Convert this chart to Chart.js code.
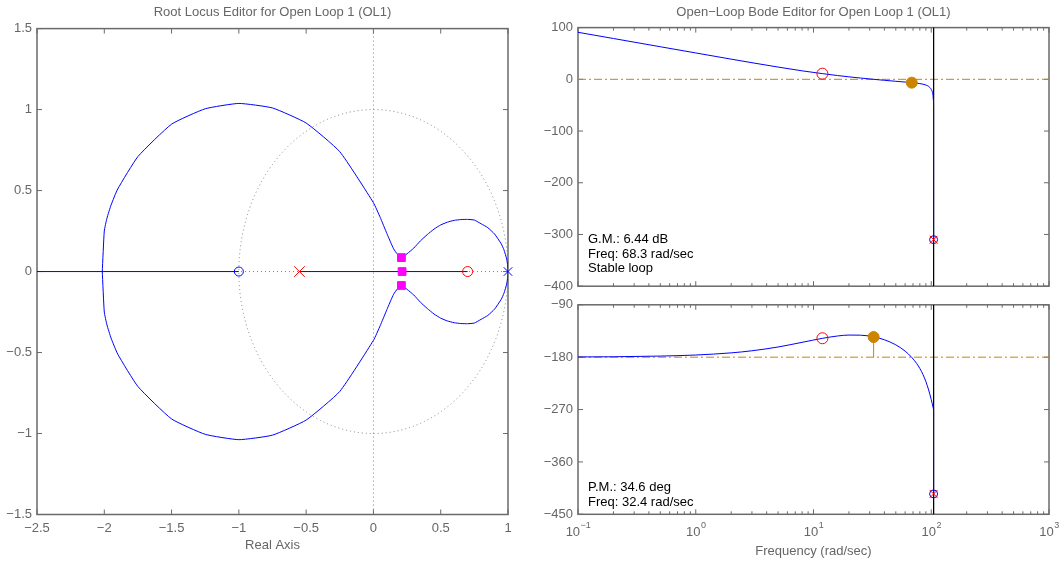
<!DOCTYPE html>
<html><head><meta charset="utf-8">
<script src="https://cdn.jsdelivr.net/npm/chart.js@4.4.1/dist/chart.umd.min.js"></script>
<style>
html,body{margin:0;padding:0;background:#fff;}
body{width:1063px;height:567px;position:relative;overflow:hidden;}
.box{position:absolute;}
</style></head><body>
<div class="box" style="left:0;top:0;width:530px;height:567px"><canvas id="rl"></canvas></div>
<div class="box" style="left:530px;top:0;width:533px;height:299px"><canvas id="mag"></canvas></div>
<div class="box" style="left:530px;top:292px;width:533px;height:275px"><canvas id="ph"></canvas></div>
<script>
// ---------------- Root locus data ----------------
const rlTitle = 'Root Locus Editor for Open Loop 1 (OL1)';
const rlXLabel = 'Real Axis';
const rlXTicks = [-2.5, -2, -1.5, -1, -0.5, 0, 0.5, 1];
const rlYTicks = [-1.5, -1, -0.5, 0, 0.5, 1, 1.5];
const locusUpperRe = [1.0, 0.998, 0.99, 0.97, 0.95, 0.9, 0.85, 0.8, 0.75, 0.7, 0.65, 0.6, 0.55, 0.5, 0.45, 0.4, 0.35, 0.3, 0.25, 0.208, 0.18, 0.15, 0.1, 0.05, 0.0, -0.25, -0.5, -0.75, -1.0, -1.25, -1.5, -1.75, -1.9, -1.95, -1.98, -2.0, -2.015];
const locusUpperIm = [0, 0.035, 0.078, 0.134, 0.171, 0.232, 0.271, 0.295, 0.318, 0.322, 0.321, 0.316, 0.305, 0.288, 0.262, 0.228, 0.19, 0.145, 0.11, 0.086, 0.105, 0.14, 0.235, 0.335, 0.425, 0.74, 0.917, 1.01, 1.038, 1.005, 0.91, 0.71, 0.51, 0.41, 0.33, 0.25, 0];
const locusLowerRe = [1.0, 0.998, 0.99, 0.97, 0.95, 0.9, 0.85, 0.8, 0.75, 0.7, 0.65, 0.6, 0.55, 0.5, 0.45, 0.4, 0.35, 0.3, 0.25, 0.208, 0.18, 0.15, 0.1, 0.05, 0.0, -0.25, -0.5, -0.75, -1.0, -1.25, -1.5, -1.75, -1.9, -1.95, -1.98, -2.0, -2.015];
const locusLowerIm = [0, -0.035, -0.078, -0.134, -0.171, -0.232, -0.271, -0.295, -0.318, -0.322, -0.321, -0.316, -0.305, -0.288, -0.262, -0.228, -0.19, -0.145, -0.11, -0.086, -0.105, -0.14, -0.235, -0.335, -0.425, -0.74, -0.917, -1.01, -1.038, -1.005, -0.91, -0.71, -0.51, -0.41, -0.33, -0.25, 0];
const realSegARe = [-2.5, -1.0];
const realSegBRe = [-0.55, 0.7];
const plantPoleRe = [1.0], plantPoleIm = [0];
const plantZeroRe = [-1.0], plantZeroIm = [0];
const compPoleRe = [-0.55], compPoleIm = [0];
const compZeroRe = [0.7], compZeroIm = [0];
const clPoleRe = [0.208, 0.213, 0.208];
const clPoleIm = [0.086, 0, -0.086];

// ---------------- Bode data ----------------
const bodeTitle = 'Open\u2212Loop Bode Editor for Open Loop 1 (OL1)';
const freqLabel = 'Frequency (rad/sec)';
const freqMajor = [0.1, 1, 10, 100, 1000];
const freqExp = ['\u22121', '0', '1', '2', '3'];
const magTicks = [100, 0, -100, -200, -300, -400];
const phaseTicks = [-90, -180, -270, -360, -450];
const freq =  [0.1, 0.2, 0.5, 1, 2, 3, 5, 8, 12, 16, 20, 25, 32.4, 40, 50, 60, 68.3, 75, 80, 85, 90, 95, 100, 102, 103.5, 104.3, 104.65, 104.72];
const magDb = [90.9, 78.9, 63.0, 51.0, 39.0, 32.1, 23.7, 16.4, 10.9, 7.3, 4.8, 2.5, 0.0, -1.9, -3.8, -5.3, -6.4, -7.4, -8.3, -9.4, -11.0, -13.7, -19.4, -24.1, -31.0, -40.3, -55.8, -310];
const phaseDeg = [-179.6, -179.3, -178.1, -176.3, -172.6, -169.0, -162.5, -154.5, -147.5, -143.6, -142.0, -142.2, -145.0, -150.1, -158.8, -169.6, -180.4, -190.6, -199.4, -209.7, -221.9, -236.3, -252.9, -260.1, -265.5, -268.5, -269.7, -415];
const nyquistFreq = [104.72];
const gmFreq = [68.3], gmMag = [-6.44];
const pmFreq = [32.4], pmPhase = [-145.4];
const compZeroFreq = [11.9], compZeroMag = [10.9], compZeroPhase = [-147.5];
const nyqMarkMag = [-310], nyqMarkPhase = [-415];
const gmText = ['G.M.: 6.44 dB', 'Freq: 68.3 rad/sec', 'Stable loop'];
const pmText = ['P.M.: 34.6 deg', 'Freq: 32.4 rad/sec'];

// ---------------- helpers ----------------
const FONT = "'Liberation Sans', Arial, Helvetica, sans-serif";
Chart.defaults.font.family = FONT;
Chart.defaults.font.size = 13;
Chart.defaults.color = '#666';
Chart.defaults.animation = false;
const MINUS = '\u2212';
const fmt = v => String(v).replace('-', MINUS);
const P = (xs, ys) => xs.map((x, i) => ({x, y: ys[i]}));
const ORANGE = '#cc8500';
const BLUE = '#0000ff', RED = '#ff0000', MAG = '#ff00ff';
const lineDs = (data, color, extra) => Object.assign({data, showLine: true, borderColor: color, borderWidth: 1, pointRadius: 0, fill: false, order: 5}, extra || {});
const markDs = (data, style, color, r, fill, extra) => Object.assign({data, showLine: false, pointStyle: style, pointRadius: r, pointHoverRadius: r, pointBorderColor: color, pointBackgroundColor: fill, pointBorderWidth: 1, clip: false, order: 0}, extra || {});
const NONE = 'rgba(0,0,0,0)';

const framePlugin = {
  id: 'frame',
  beforeDatasetsDraw(chart, args, o) {
    const {ctx, chartArea: a, scales} = chart;
    const xs = scales.x, ys = scales.y;
    ctx.save();
    ctx.strokeStyle = '#6a6a6a';
    ctx.lineWidth = 1;
    const seg = (x1, y1, x2, y2) => { ctx.beginPath(); ctx.moveTo(x1, y1); ctx.lineTo(x2, y2); ctx.stroke(); };
    (o.xMajor || []).forEach(v => { const p = xs.getPixelForValue(v); seg(p, a.bottom, p, a.bottom - 5); seg(p, a.top, p, a.top + 5); });
    (o.xMinor || []).forEach(v => { const p = xs.getPixelForValue(v); seg(p, a.bottom, p, a.bottom - 3); seg(p, a.top, p, a.top + 3); });
    (o.yMajor || []).forEach(v => { const p = ys.getPixelForValue(v); seg(a.left, p, a.left + 5, p); seg(a.right, p, a.right - 5, p); });
    ctx.lineWidth = 1.5;
    ctx.strokeRect(a.left, a.top, a.right - a.left, a.bottom - a.top);
    ctx.restore();
  }
};

// dotted reference grid of the root-locus (axes through origin + unit circle)
const rlGridPlugin = {
  id: 'rlgrid',
  beforeDatasetsDraw(chart) {
    const {ctx, chartArea: a, scales} = chart;
    const xs = scales.x, ys = scales.y;
    const x0 = xs.getPixelForValue(0), y0 = ys.getPixelForValue(0);
    const rx = xs.getPixelForValue(1) - x0, ry = y0 - ys.getPixelForValue(1);
    ctx.save();
    ctx.strokeStyle = '#808080';
    ctx.lineWidth = 1;
    ctx.setLineDash([1, 3]);
    ctx.beginPath(); ctx.moveTo(x0, a.top); ctx.lineTo(x0, a.bottom); ctx.stroke();
    ctx.beginPath(); ctx.moveTo(a.left, y0); ctx.lineTo(a.right, y0); ctx.stroke();
    ctx.beginPath(); ctx.ellipse(x0, y0, rx, ry, 0, 0, Math.PI * 2); ctx.stroke();
    ctx.restore();
  }
};

const textPlugin = {
  id: 'notes',
  afterDraw(chart, args, o) {
    if (!o.lines) return;
    const {ctx, chartArea: a} = chart;
    ctx.save();
    ctx.font = '13px ' + FONT;
    ctx.fillStyle = '#000';
    ctx.textBaseline = 'middle';
    ctx.textAlign = 'left';
    o.lines.forEach((t, i) => ctx.fillText(t, a.left + 10, a.bottom - o.offset + i * o.step));
    ctx.restore();
  }
};

const logLabelPlugin = {
  id: 'loglabels',
  afterDraw(chart) {
    const {ctx, chartArea: a, scales} = chart;
    const xs = scales.x;
    ctx.save();
    ctx.fillStyle = '#666';
    ctx.textBaseline = 'middle';
    ctx.textAlign = 'left';
    freqMajor.forEach((v, i) => {
      const p = xs.getPixelForValue(v);
      ctx.font = '13px ' + FONT;
      const w1 = ctx.measureText('10').width;
      ctx.font = '9px ' + FONT;
      const w2 = ctx.measureText(freqExp[i]).width;
      const x0 = p - (w1 + w2) / 2;
      ctx.font = '13px ' + FONT;
      ctx.fillText('10', x0, a.bottom + 18.5);
      ctx.font = '9px ' + FONT;
      ctx.fillText(freqExp[i], x0 + w1 + 0.5, a.bottom + 11);
    });
    ctx.restore();
  }
};

const minorLog = [];
[0.1, 1, 10, 100].forEach(d => { for (let m = 2; m <= 9; m++) minorLog.push(d * m); });

const baseOpts = () => ({
  responsive: true,
  maintainAspectRatio: false,
  animation: false,
  events: [],
  plugins: { legend: {display: false}, tooltip: {enabled: false} }
});
const titleOpts = (text, pb) => ({display: true, text, color: '#666', fullSize: false, font: {size: 13, weight: 'normal'}, padding: {top: 5, bottom: pb}});
const hiddenGrid = {display: false, drawTicks: false};

// ---------------- Root locus chart ----------------
(function () {
  const o = baseOpts();
  o.layout = {padding: {left: 0, right: 22, top: 0, bottom: 12.5}};
  o.plugins.title = titleOpts(rlTitle, 8);
  o.plugins.frame = {xMajor: rlXTicks, yMajor: rlYTicks};
  o.scales = {
    x: {type: 'linear', min: -2.5, max: 1,
        afterBuildTicks: s => { s.ticks = rlXTicks.map(v => ({value: v})); },
        afterFit: s => { s.height = 40; },
        grid: hiddenGrid, border: {display: false},
        ticks: {padding: 6, autoSkip: false, maxRotation: 0, color: '#666', callback: v => fmt(v)},
        title: {display: true, text: rlXLabel, color: '#666', font: {size: 13}, padding: {top: 0, bottom: 1}}},
    y: {type: 'linear', min: -1.5, max: 1.5,
        afterBuildTicks: s => { s.ticks = rlYTicks.map(v => ({value: v})); },
        afterFit: s => { s.width = 37; },
        grid: hiddenGrid, border: {display: false},
        ticks: {padding: 5, autoSkip: false, color: '#666', callback: v => fmt(v)}}
  };
  new Chart(document.getElementById('rl'), {
    type: 'scatter',
    data: {datasets: [
      markDs(P(clPoleRe, clPoleIm), 'rect', MAG, 5.5, MAG),
      markDs(P(plantPoleRe, plantPoleIm), 'crossRot', BLUE, 6, NONE),
      markDs(P(plantZeroRe, plantZeroIm), 'circle', BLUE, 4.5, NONE),
      markDs(P(compPoleRe, compPoleIm), 'crossRot', RED, 7.5, NONE),
      markDs(P(compZeroRe, compZeroIm), 'circle', RED, 5, NONE),
      lineDs(P(locusUpperRe, locusUpperIm), BLUE, {tension: 0.15}),
      lineDs(P(locusLowerRe, locusLowerIm), BLUE, {tension: 0.15}),
      lineDs(P(realSegARe, [0, 0]), BLUE),
      lineDs(P(realSegBRe, [0, 0]), BLUE)
    ]},
    options: o,
    plugins: [rlGridPlugin, framePlugin]
  });
})();

// ---------------- Bode magnitude ----------------
(function () {
  const o = baseOpts();
  o.layout = {padding: {left: 0, right: 14, top: 0, bottom: 6}};
  o.plugins.title = titleOpts(bodeTitle, 7);
  o.plugins.frame = {xMajor: freqMajor, xMinor: minorLog, yMajor: magTicks};
  o.plugins.notes = {lines: gmText, offset: 47, step: 14.8};
  o.scales = {
    x: {type: 'logarithmic', min: 0.1, max: 1000, display: false},
    y: {type: 'linear', min: -400, max: 100,
        afterBuildTicks: s => { s.ticks = magTicks.map(v => ({value: v})); },
        afterFit: s => { s.width = 48; },
        grid: hiddenGrid, border: {display: false},
        ticks: {padding: 5, autoSkip: false, color: '#666', callback: v => fmt(v)}}
  };
  new Chart(document.getElementById('mag'), {
    type: 'scatter',
    data: {datasets: [
      markDs(P(gmFreq, gmMag), 'circle', ORANGE, 5.5, ORANGE),
      markDs(P(compZeroFreq, compZeroMag), 'circle', RED, 5.5, NONE),
      markDs(P(nyquistFreq, nyqMarkMag), 'crossRot', RED, 5.5, NONE),
      markDs(P(nyquistFreq, nyqMarkMag), 'circle', BLUE, 4, NONE),
      lineDs(P(freq, magDb), BLUE, {cubicInterpolationMode: 'monotone', order: 3}),
      lineDs(P([gmFreq[0], gmFreq[0]], [0, gmMag[0]]), ORANGE, {order: 4}),
      lineDs(P(nyquistFreq.concat(nyquistFreq), [100, -400]), '#000', {order: 6}),
      lineDs(P([0.1, 1000], [0, 0]), ORANGE, {borderDash: [8, 3, 2, 3], order: 7})
    ]},
    options: o,
    plugins: [framePlugin, textPlugin]
  });
})();

// ---------------- Bode phase ----------------
(function () {
  const o = baseOpts();
  o.layout = {padding: {left: 0, right: 14, top: 11.5, bottom: 7.7}};
  o.plugins.frame = {xMajor: freqMajor, xMinor: minorLog, yMajor: phaseTicks};
  o.plugins.notes = {lines: pmText, offset: 26.8, step: 15};
  o.scales = {
    x: {type: 'logarithmic', min: 0.1, max: 1000,
        afterBuildTicks: s => { s.ticks = freqMajor.map(v => ({value: v})); },
        afterFit: s => { s.height = 45; },
        grid: hiddenGrid, border: {display: false},
        ticks: {padding: 6, autoSkip: false, maxRotation: 0, callback: () => ''},
        title: {display: true, text: freqLabel, color: '#666', font: {size: 13}, padding: {top: 0, bottom: 0.5}}},
    y: {type: 'linear', min: -450, max: -90,
        afterBuildTicks: s => { s.ticks = phaseTicks.map(v => ({value: v})); },
        afterFit: s => { s.width = 48; },
        grid: hiddenGrid, border: {display: false},
        ticks: {padding: 5, autoSkip: false, color: '#666', callback: v => fmt(v)}}
  };
  new Chart(document.getElementById('ph'), {
    type: 'scatter',
    data: {datasets: [
      markDs(P(pmFreq, pmPhase), 'circle', ORANGE, 5.5, ORANGE),
      markDs(P(compZeroFreq, compZeroPhase), 'circle', RED, 5.5, NONE),
      markDs(P(nyquistFreq, nyqMarkPhase), 'crossRot', RED, 5.5, NONE),
      markDs(P(nyquistFreq, nyqMarkPhase), 'circle', BLUE, 4, NONE),
      lineDs(P(freq, phaseDeg), BLUE, {cubicInterpolationMode: 'monotone', order: 3}),
      lineDs(P([pmFreq[0], pmFreq[0]], [-180, pmPhase[0]]), ORANGE, {order: 4}),
      lineDs(P(nyquistFreq.concat(nyquistFreq), [-90, -450]), '#000', {order: 6}),
      lineDs(P([0.1, 1000], [-180, -180]), ORANGE, {borderDash: [8, 3, 2, 3], order: 7})
    ]},
    options: o,
    plugins: [framePlugin, textPlugin, logLabelPlugin]
  });
})();
</script>
</body></html>
